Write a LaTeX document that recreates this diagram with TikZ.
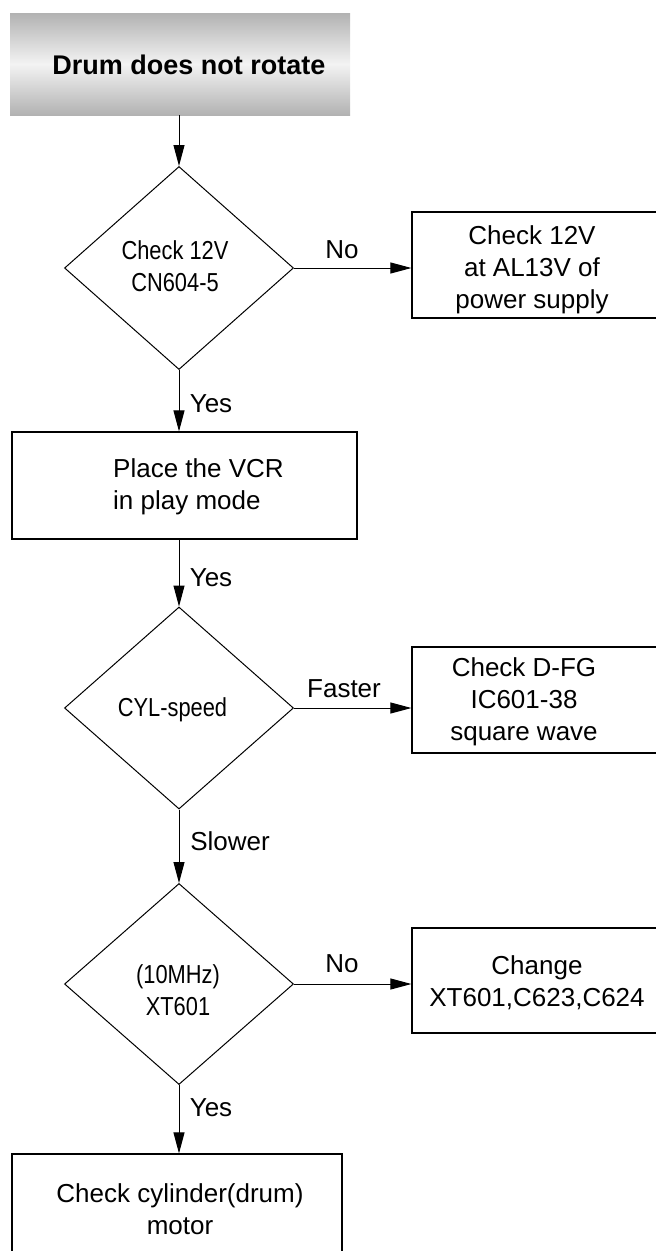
\documentclass[tikz,border=0pt]{standalone}
\usepackage{fontspec}
\setmainfont{Liberation Sans}
\newfontfamily\condfont[FakeStretch=0.84]{Liberation Sans}
\usetikzlibrary{shapes.geometric,arrows.meta}
\definecolor{shadeedge}{RGB}{178,178,178}
\definecolor{shademid}{RGB}{243,243,243}
\begin{document}
\begin{tikzpicture}[x=1pt,y=-1pt,
  titlebox/.style={rectangle, inner sep=0pt, top color=shadeedge, bottom color=shadeedge, middle color=shademid},
  box/.style={draw, line width=1.2pt, rectangle, inner sep=0pt},
  dia/.style={draw, line width=1pt, diamond, inner sep=0pt},
  txt/.style={font=\fontsize{26}{32}\selectfont, align=center, inner sep=0pt},
  ctxt/.style={font=\condfont\fontsize{26}{32}\selectfont, align=center, inner sep=0pt},
  lbl/.style={font=\fontsize{26}{32}\selectfont, inner sep=0pt},
  arr/.style={-{Triangle[length=21pt,width=11pt]}, line width=1pt}]
\useasboundingbox (0,0) rectangle (656,1251);
\clip (0,0) rectangle (656,1251);
% title
\node[titlebox, minimum width=340pt, minimum height=102pt] (start) at (180,64) {};
\node[font=\bfseries\fontsize{27}{32}\selectfont, inner sep=0pt] (starttxt) at (189,64.5) {Drum does not rotate};
% decision 1
\node[dia, minimum width=229pt, minimum height=203pt] (d1) at (179,268) {};
\node[ctxt] (d1t) at (175,266.5) {Check 12V\\CN604-5};
\node[box, minimum width=290pt, minimum height=106pt] (rb1) at (557,265) {};
\node[txt] (rb1t) at (532,270) {Check 12V\\at AL13V of\\power supply};
% box 2
\node[box, minimum width=345pt, minimum height=107pt] (b2) at (184.5,485.5) {};
\node[txt, align=left, anchor=west] (b2t) at (113,487) {Place the VCR\\in play mode};
% decision 2
\node[dia, minimum width=229pt, minimum height=202pt] (d2) at (179,708) {};
\node[ctxt] (d2t) at (172.5,710) {CYL-speed};
\node[box, minimum width=290pt, minimum height=106pt] (rb2) at (557,700) {};
\node[txt] (rb2t) at (524,702) {Check D-FG\\IC601-38\\square wave};
% decision 3
\node[dia, minimum width=229pt, minimum height=201pt] (d3) at (179,984) {};
\node[ctxt] (d3t) at (178,990) {(10MHz)\\XT601};
\node[box, minimum width=290pt, minimum height=105pt] (rb3) at (557,980.5) {};
\node[txt] (rb3t) at (537,983) {Change\\XT601,C623,C624};
% final box
\node[box, minimum width=330pt, minimum height=116pt] (b4) at (177,1212) {};
\node[txt] (b4t) at (180,1209) {Check cylinder(drum)\\motor};
% connectors
\draw[arr] (d1.north |- start.south) -- (d1.north);
\draw[arr] (d1.east) -- (d1.east -| rb1.west);
\draw[arr] (d1.south) -- (d1.south |- b2.north);
\draw[arr] (d2.north |- b2.south) -- (d2.north);
\draw[arr] (d2.east) -- (d2.east -| rb2.west);
\draw[arr] (d2.south) -- (d3.north);
\draw[arr] (d3.east) -- (d3.east -| rb3.west);
\draw[arr] (d3.south) -- (d3.south |- b4.north);
% labels
\node[lbl] (l1) at (342,250) {No};
\node[lbl] (l2) at (211,404) {Yes};
\node[lbl] (l3) at (211,578) {Yes};
\node[lbl] (l4) at (344,689) {Faster};
\node[lbl] (l5) at (230,841) {Slower};
\node[lbl] (l6) at (342,964) {No};
\node[lbl] (l7) at (211,1108) {Yes};
\end{tikzpicture}
\end{document}
